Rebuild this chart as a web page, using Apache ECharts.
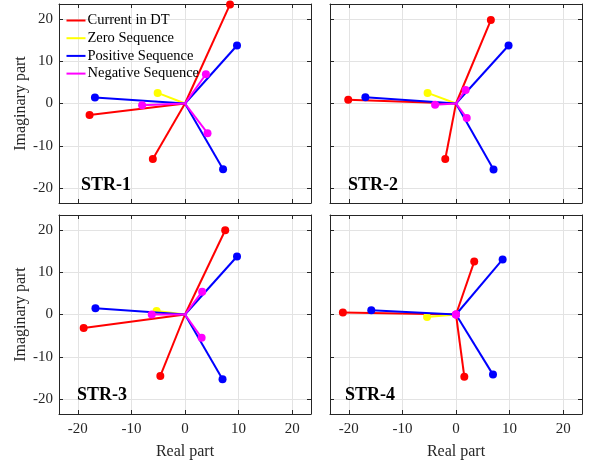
<!DOCTYPE html>
<html><head><meta charset="utf-8">
<script src="https://cdn.jsdelivr.net/npm/echarts@6/dist/echarts.min.js"></script>
<style>html,body{margin:0;padding:0;background:#fff}#c{width:590px;height:464px}</style>
</head><body><div id="c"></div>
<script>
const seriesNames = ['Current in DT', 'Zero Sequence', 'Positive Sequence', 'Negative Sequence'];
const panelLabels = ['STR-1', 'STR-2', 'STR-3', 'STR-4'];
// phasor tips [real, imag]
const str1Current = [[8.4, 23.4], [-17.8, -2.7], [-6.0, -13.1]];
const str1Zero = [[-5.1, 2.5]];
const str1Positive = [[9.7, 13.7], [-16.8, 1.4], [7.1, -15.5]];
const str1Negative = [[3.9, 6.9], [-8.0, -0.4], [4.2, -7.0]];

const str2Current = [[6.5, 19.7], [-20.1, 0.9], [-2.0, -13.1]];
const str2Zero = [[-5.3, 2.5]];
const str2Positive = [[9.8, 13.7], [-16.9, 1.5], [7.0, -15.6]];
const str2Negative = [[1.8, 3.2], [-3.9, -0.3], [2.0, -3.4]];

const str3Current = [[7.5, 19.9], [-18.9, -3.2], [-4.6, -14.5]];
const str3Zero = [[-5.3, 0.8]];
const str3Positive = [[9.7, 13.7], [-16.7, 1.5], [7.0, -15.3]];
const str3Negative = [[3.2, 5.4], [-6.2, 0.0], [3.1, -5.5]];

const str4Current = [[3.4, 12.5], [-21.1, 0.5], [1.55, -14.7]];
const str4Zero = [[-5.4, -0.6]];
const str4Positive = [[8.7, 13.0], [-15.8, 1.0], [6.9, -14.2]];
const str4Negative = [[0, 0], [0, 0], [0, 0]];

const panels = [
  [str1Current, str1Zero, str1Positive, str1Negative],
  [str2Current, str2Zero, str2Positive, str2Negative],
  [str3Current, str3Zero, str3Positive, str3Negative],
  [str4Current, str4Zero, str4Positive, str4Negative]
];
const colors = ['#ff0000', '#ffff00', '#0000ff', '#ff00ff'];
const axisMin = -23.5, axisMax = 23.5;

const font = '"Liberation Serif", "Times New Roman", serif';
const axisColor = '#262626';
const gridPos = [
  {left: 59, top: 4}, {left: 330, top: 4}, {left: 59, top: 215}, {left: 330, top: 215}
];
const grids = [], xAxes = [], yAxes = [], series = [], graphics = [];
gridPos.forEach((g, i) => {
  grids.push({left: g.left, top: g.top, width: 252, height: 199, show: false});
  const bottomRow = i >= 2, leftCol = i % 2 === 0;
  const base = {
    type: 'value', min: axisMin, max: axisMax, gridIndex: i,
    axisLine: {show: true, onZero: false, lineStyle: {color: axisColor, width: 1}},
    axisTick: {show: true, inside: true, length: 4, lineStyle: {color: axisColor}},
  };
  xAxes.push(Object.assign({}, base, {
    position: 'bottom',
    splitLine: {show: true, lineStyle: {color: '#e3e3e3', width: 1}},
    axisLabel: {show: bottomRow, showMinLabel: false, showMaxLabel: false, fontFamily: font, fontSize: 15, color: axisColor, margin: 8},
    name: bottomRow ? 'Real part' : '', nameLocation: 'middle', nameGap: 30,
    nameTextStyle: {fontFamily: font, fontSize: 16, color: axisColor}
  }));
  xAxes.push(Object.assign({}, base, {
    position: 'top', splitLine: {show: false}, axisLabel: {show: false}
  }));
  yAxes.push(Object.assign({}, base, {
    position: 'left',
    splitLine: {show: true, lineStyle: {color: '#e3e3e3', width: 1}},
    axisLabel: {show: leftCol, showMinLabel: false, showMaxLabel: false, fontFamily: font, fontSize: 15, color: axisColor, margin: 6},
    name: leftCol ? 'Imaginary part' : '', nameLocation: 'middle', nameGap: 24,
    nameTextStyle: {fontFamily: font, fontSize: 16, color: axisColor}
  }));
  yAxes.push(Object.assign({}, base, {
    position: 'right', splitLine: {show: false}, axisLabel: {show: false}
  }));
  panels[i].forEach((pts, k) => {
    pts.forEach(p => {
      series.push({
        type: 'line', name: seriesNames[k], xAxisIndex: i * 2, yAxisIndex: i * 2,
        data: [{value: [0, 0], symbol: 'none'}, {value: p}],
        symbol: 'circle', symbolSize: 8, showAllSymbol: true, clip: false,
        lineStyle: {color: colors[k], width: 2}, itemStyle: {color: colors[k]},
        emphasis: {disabled: true}, animation: false, z: 2 + k
      });
    });
  });
});
const labelPos = [[81, 176], [348, 176], [77, 386], [345, 386]];
panelLabels.forEach((t, i) => {
  graphics.push({type: 'text', left: labelPos[i][0], top: labelPos[i][1], z: 100,
    style: {text: t, font: 'bold 18px ' + font, fill: '#000'}});
});

const chart = echarts.init(document.getElementById('c'), null, {renderer: 'canvas'});
chart.setOption({
  animation: false,
  grid: grids, xAxis: xAxes, yAxis: yAxes, series: series, graphic: graphics,
  legend: {
    data: seriesNames, orient: 'vertical', left: 66.5, top: 13, padding: 0, icon: 'rect',
    itemWidth: 19, itemHeight: 2, itemGap: 2.7,
    textStyle: {fontFamily: font, fontSize: 14.5, color: '#000', lineHeight: 14, padding: [0, 0, 0, -3]},
    selectedMode: false
  }
});
</script></body></html>
